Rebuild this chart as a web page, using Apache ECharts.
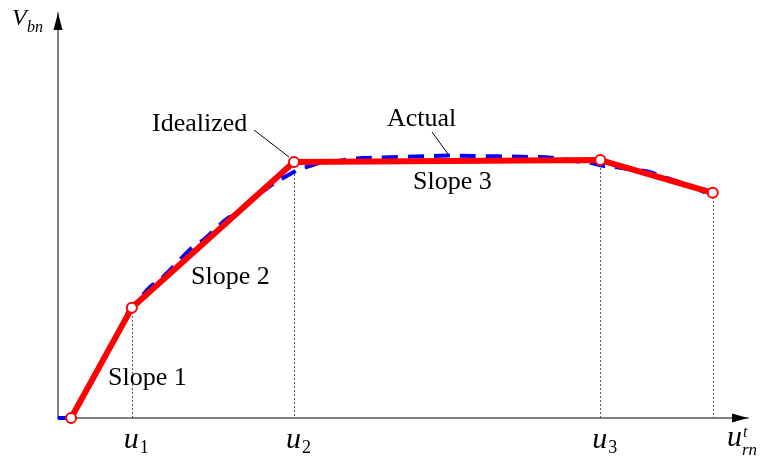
<!DOCTYPE html>
<html>
<head>
<meta charset="utf-8">
<script src="https://cdn.jsdelivr.net/npm/echarts@6/dist/echarts.min.js"></script>
<style>
  html, body { margin: 0; padding: 0; background: #fff; }
  #chart { width: 760px; height: 461px; }
</style>
</head>
<body>
<div id="chart"></div>
<script>
// Idealized multilinear backbone (breakpoints: origin, u1, u2, u3, end)
const idealX = [1.9, 10.7, 34.2, 78.6, 94.9];
const idealY = [0, 27.2, 63.2, 63.7, 55.6];

// Actual (measured) response curve
const actualX = [0, 1.6, 3.9, 7.5, 10.7, 13.8, 20.6, 24.9, 29.3, 32.2, 35.1, 38.0, 44.2, 56.8, 70.9, 77.1, 79.3, 85.1, 90.1, 94.5];
const actualY = [0, 0, 6.0, 17.2, 27.6, 33.0, 43.5, 49.6, 55.6, 59.0, 61.5, 63.0, 64.2, 64.8, 64.4, 63.0, 62.2, 61.0, 58.3, 55.1];

// Breakpoints that get a dotted drop line, and those that carry an axis label
const dropIdx = [1, 2, 3, 4];
const tickIdx = [1, 2, 3];
const tickSub = ['1', '2', '3'];

const SERIF = "'Liberation Serif', 'Times New Roman', serif";

const chart = echarts.init(document.getElementById('chart'), null, { renderer: 'canvas' });

const axisCommon = {
  type: 'value',
  min: 0,
  max: 100,
  axisLine: { show: true, lineStyle: { color: '#808080', width: 2 } },
  axisTick: { show: false },
  axisLabel: { show: false },
  splitLine: { show: false }
};

chart.setOption({
  animation: false,
  backgroundColor: '#fff',
  grid: { left: 58, right: 12, top: 13, bottom: 43 },
  xAxis: Object.assign({}, axisCommon),
  yAxis: Object.assign({}, axisCommon),
  series: [
    {
      name: 'Actual',
      type: 'line',
      data: actualX.map((x, i) => [x, actualY[i]]),
      smooth: 0.12,
      smoothMonotone: 'x',
      showSymbol: false,
      symbol: 'none',
      lineStyle: { color: '#0000ff', width: 4, type: [16, 10] },
      z: 2
    },
    {
      name: 'Idealized',
      type: 'line',
      data: idealX.map((x, i) => [x, idealY[i]]),
      symbol: 'emptyCircle',
      symbolSize: 10,
      showAllSymbol: true,
      lineStyle: { color: '#ff0000', width: 6 },
      itemStyle: { color: '#ff0000', borderColor: '#ff0000', borderWidth: 3.5 },
      z: 3,
      markLine: {
        silent: true,
        symbol: ['none', 'none'],
        label: { show: false },
        lineStyle: { color: '#555', width: 1, type: [2, 2] },
        z: 1,
        data: dropIdx.map(i => [
          { coord: [idealX[i], idealY[i]] },
          { coord: [idealX[i], 0] }
        ])
      }
    }
  ]
});

// Text helper: left edge + baseline in pixels
function txt(str, left, baseline, size, italic) {
  return {
    type: 'text',
    z: 10,
    style: {
      text: str,
      x: left,
      y: baseline - 0.3 * size,
      fill: '#000',
      font: (italic ? 'italic ' : '') + size + 'px ' + SERIF,
      textAlign: 'left',
      textVerticalAlign: 'middle'
    }
  };
}

const origin = chart.convertToPixel({ gridIndex: 0 }, [0, 0]);
const xEnd = chart.convertToPixel({ gridIndex: 0 }, [100, 0]);
const yEnd = chart.convertToPixel({ gridIndex: 0 }, [0, 100]);

const graphics = [];

// Arrow heads on the axes
graphics.push({
  type: 'polygon', z: 10,
  shape: { points: [[xEnd[0], xEnd[1]], [xEnd[0] - 16, xEnd[1] - 4.5], [xEnd[0] - 16, xEnd[1] + 4.5]] },
  style: { fill: '#000' }
});
graphics.push({
  type: 'polygon', z: 10,
  shape: { points: [[yEnd[0], yEnd[1]], [yEnd[0] - 4.5, yEnd[1] + 17], [yEnd[0] + 4.5, yEnd[1] + 17]] },
  style: { fill: '#000' }
});

// Breakpoint labels u1, u2, u3 under the x axis
tickIdx.forEach((idx, k) => {
  const p = chart.convertToPixel({ gridIndex: 0 }, [idealX[idx], 0]);
  graphics.push(txt('u', p[0] - 8, origin[1] + 31, 30, true));
  graphics.push(txt(tickSub[k], p[0] + 8, origin[1] + 36, 18, false));
});

// Axis titles
graphics.push(txt('V', 12, 26, 24, true));
graphics.push(txt('bn', 27, 33, 16, true));
graphics.push(txt('u', xEnd[0] - 21, origin[1] + 29, 30, true));
graphics.push(txt('t', xEnd[0] - 5, origin[1] + 20, 16, true));
graphics.push(txt('rn', xEnd[0] - 6, origin[1] + 38, 17, true));

// Annotations
graphics.push(txt('Idealized', 152, 132, 26, false));
graphics.push(txt('Actual', 387, 127, 26, false));
graphics.push(txt('Slope 1', 108, 386, 26, false));
graphics.push(txt('Slope 2', 191, 285, 26, false));
graphics.push(txt('Slope 3', 413, 190, 26, false));

// Leader lines from annotations to the curves
graphics.push({
  type: 'line', z: 10,
  shape: { x1: 254, y1: 130, x2: 289, y2: 157 },
  style: { stroke: '#000', lineWidth: 1 }
});
graphics.push({
  type: 'line', z: 10,
  shape: { x1: 432, y1: 132, x2: 448, y2: 154 },
  style: { stroke: '#000', lineWidth: 1 }
});

chart.setOption({ graphic: graphics });
</script>
</body>
</html>
